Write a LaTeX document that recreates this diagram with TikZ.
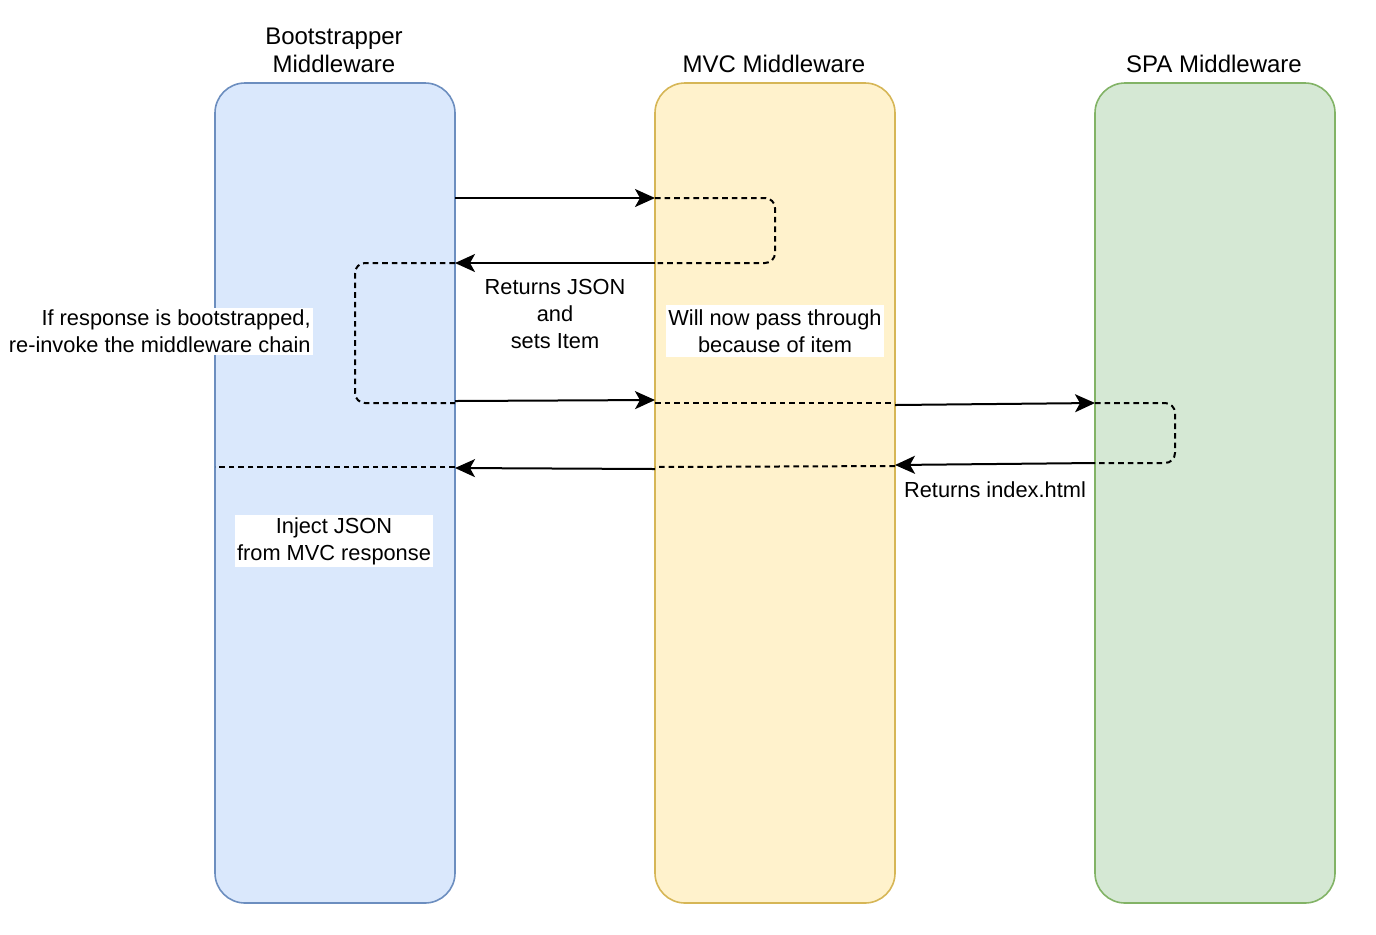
\documentclass[tikz,border=0pt]{standalone}
\usepackage{fontspec}
\setmainfont{Liberation Sans}
\usepackage{tikz}
\usetikzlibrary{calc}
\usetikzlibrary{arrows.meta}
\definecolor{bootfill}{HTML}{DAE8FC}
\definecolor{bootline}{HTML}{6C8EBF}
\definecolor{mvcfill}{HTML}{FFF2CC}
\definecolor{mvcline}{HTML}{D6B656}
\definecolor{spafill}{HTML}{D5E8D4}
\definecolor{spaline}{HTML}{82B366}
\tikzstyle{lane} = [rectangle, rounded corners=15pt, minimum width=120pt, minimum height=410pt, line width=0.8pt]
\tikzstyle{title} = [align=center, inner sep=1pt, font=\fontsize{12}{14}\selectfont]
\tikzstyle{note} = [align=center, inner sep=1pt]
\tikzstyle{arrow} = [line width=1pt, -{Stealth[length=10pt, width=9pt, inset=2.5pt]}]
\tikzstyle{pass} = [line width=1pt, dash pattern=on 2.8pt off 2pt, rounded corners=5pt]

\begin{document}
\begin{tikzpicture}[x=0.5pt, y=-0.5pt, font=\fontsize{10.9}{13.5}\selectfont]
\useasboundingbox (0,0) rectangle (1376,934);

\node (boot) [lane, fill=bootfill, draw=bootline] at (335,493) {};
\node (mvc) [lane, fill=mvcfill, draw=mvcline] at (775,493) {};
\node (spa) [lane, fill=spafill, draw=spaline] at (1215,493) {};
\node (boottitle) [title] at (334,50) {Bootstrapper\\Middleware};
\node (mvctitle) [title] at (774,64) {MVC Middleware};
\node (spatitle) [title] at (1214,64) {SPA Middleware};

% first request
\coordinate (req1) at (455,198);
\coordinate (mvcin1) at (655,198);
\coordinate (mvcout1) at (655,263);
\coordinate (bootin1) at (455,263);
% re-invoked request
\coordinate (req2) at (455,401);
\coordinate (mvcin2) at (655,400);
\coordinate (mvcpass) at (655,403);
\coordinate (mvcout2) at (895,403);
\coordinate (spain) at (1095,403);
\coordinate (spaout) at (1095,463);
\coordinate (mvcin3) at (895,465);
\coordinate (mvcback) at (655,467);
\coordinate (bootin2) at (455,468);
\coordinate (bootend) at (215,467);

\draw [arrow] (req1) -- (mvcin1);
\draw [pass] (mvcin1) -- (775,198) -- (775,263) -- (mvcout1);
\draw [arrow] (mvcout1) -- (bootin1);
\draw [pass] (bootin1) -- (355,263) -- (355,403) -- (455,403);
\draw [arrow] (req2) -- (mvcin2);
\draw [pass] (mvcpass) -- (mvcout2);
\draw [arrow] (895,405) -- (spain);
\draw [pass] (spain) -- (1175,403) -- (1175,463) -- (spaout);
\draw [arrow] (spaout) -- (mvcin3);
\draw [pass] (895,466) -- (mvcback);
\draw [arrow] (655,469) -- (bootin2);
\draw [pass] (455,467) -- (bootend);

\node (json) [note] at (555,314) {Returns JSON\\and\\sets Item};
\node (passnote) [note, fill=white, minimum width=107pt, minimum height=26pt] at (775,331) {Will now pass through\\because of item};
\node (reinvoke) [note, align=right, fill=white, anchor=east] at (313,331) {If response is bootstrapped,\\re-invoke the middleware chain};
\node (inject) [note, fill=white, minimum width=97.5pt, minimum height=25.5pt] at (334,541) {Inject JSON\\from MVC response};
\node (index) [note] at (995,490) {Returns index.html};
\end{tikzpicture}
\end{document}
